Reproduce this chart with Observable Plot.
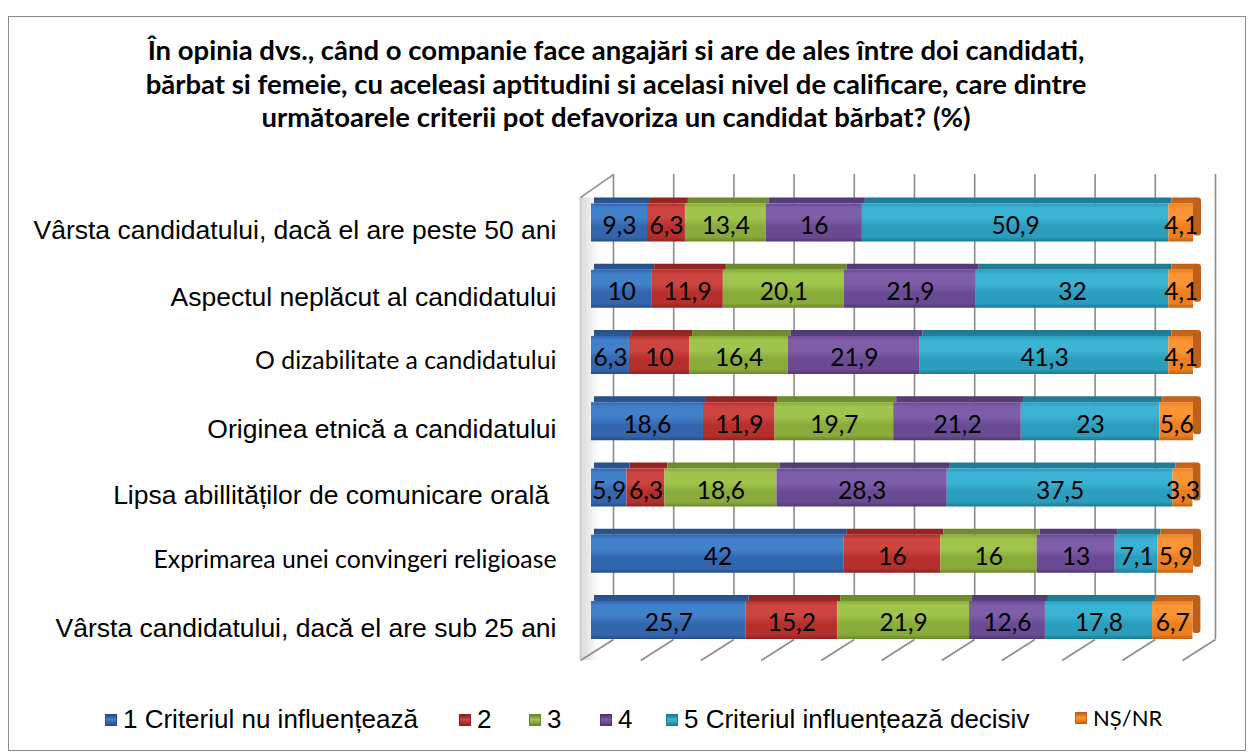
<!DOCTYPE html>
<html>
<head>
<meta charset="utf-8">
<script src="https://cdn.jsdelivr.net/npm/d3@7"></script>
<script src="https://cdn.jsdelivr.net/npm/@observablehq/plot@0.6"></script>
<style>
  html, body { margin: 0; padding: 0; background: #fff; width: 1253px; height: 755px; overflow: hidden; }
  #frame { position: absolute; left: 8px; top: 16px; width: 1236px; height: 733px; border: 1.5px solid #8a8a8a; z-index: 0; }
  #title { position: relative; z-index: 1; box-sizing: border-box; height: 150px; width: 1232px; padding-top: 33px;
           text-align: center; font-family: Lato, "Open Sans", sans-serif; font-weight: 700; font-size: 27.5px; line-height: 33.5px; color: #000; }
  #chart { position: relative; z-index: 1; height: 530px; }
  #legend { position: relative; z-index: 1; height: 70px; }
  .li { position: absolute; top: 24px; display: flex; align-items: center; font-family: "Liberation Sans", Arial, sans-serif; font-size: 26px; color: #000; white-space: pre; }
  .li .mk { width: 12px; height: 12px; margin-right: 6px; box-sizing: border-box; }
</style>
</head>
<body>
<div id="frame"></div>
<div id="title">În opinia dvs., când o companie face angajări si are de ales între doi candidati,<br>bărbat si femeie, cu aceleasi aptitudini si acelasi nivel de calificare, care dintre<br>următoarele criterii pot defavoriza un candidat bărbat? (%)</div>
<div id="chart"></div>
<div id="legend"></div>
<script>
// ---- data ----
const categories = [
  "Vârsta candidatului, dacă el are peste 50 ani",
  "Aspectul neplăcut al candidatului",
  "O dizabilitate a candidatului",
  "Originea etnică a candidatului",
  "Lipsa abillităților de comunicare orală\u00a0",
  "Exprimarea unei convingeri religioase",
  "Vârsta candidatului, dacă el are sub 25 ani"
];
const smallFontCategories = ["O dizabilitate a candidatului", "Exprimarea unei convingeri religioase"];
const seriesNames = ["1 Criteriul nu influențează", "2", "3", "4", "5 Criteriul influențează decisiv", "NȘ/NR"];
const s1 = [9.3, 10, 6.3, 18.6, 5.9, 42, 25.7];
const s2 = [6.3, 11.9, 10, 11.9, 6.3, 16, 15.2];
const s3 = [13.4, 20.1, 16.4, 19.7, 18.6, 16, 21.9];
const s4 = [16, 21.9, 21.9, 21.2, 28.3, 13, 12.6];
const s5 = [50.9, 32, 41.3, 23, 37.5, 7.1, 17.8];
const s6 = [4.1, 4.1, 4.1, 5.6, 3.3, 5.9, 6.7];
const gridTicks = [0, 10, 20, 30, 40, 50, 60, 70, 80, 90, 100];

// colours: [light, base, dark, top face]
const palette = [
  ["#4181CA", "#3466AE", "#264E87", "#2B5894"],
  ["#CC4541", "#B5302D", "#8C2321", "#982927"],
  ["#A0C44C", "#89AB3A", "#6A872A", "#728F31"],
  ["#7E5EA9", "#6A4B93", "#51386F", "#58417D"],
  ["#3BB3D4", "#2B9DBD", "#1E7890", "#23809C"],
  ["#F99535", "#EE7F1F", "#BF6019", "#C9661B"]
];

const allSeries = [s1, s2, s3, s4, s5, s6];
const rows = [];
categories.forEach((c, i) => {
  let acc = 0;
  allSeries.forEach((s, k) => {
    const v = s[i];
    rows.push({cat: c, i, k, v, x1: acc, x2: acc + v, last: k === allSeries.length - 1});
    acc += v;
  });
});

// ---- geometry (styling) ----
const W = 1253, H = 530, mL = 591, mR = 60, mT = 72.5, mB = 60;
const pxX = (W - mL - mR) / 100;
const pxY = (H - mT - mB) / (categories.length - 1);
const half = 19 / pxY;
const depth = 6 / pxY;
const backOff = 22 / pxX, frontOff = 11 / pxX;
const wallTop = -48.5 / pxY, wallTopFront = -25.5 / pxY, floorBack = 416.5 / pxY, floorFront = 437.5 / pxY;

const defs = () => {
  const d = d3.create("svg:defs");
  palette.forEach((p, k) => {
    const g = d.append("linearGradient").attr("id", "face" + k).attr("x1", 0).attr("y1", 0).attr("x2", 0).attr("y2", 1);
    [[0, p[1]], [0.12, p[0]], [0.38, p[0]], [0.6, p[1]], [0.88, p[1]], [1, p[2]]]
      .forEach(([o, c]) => g.append("stop").attr("offset", o).attr("stop-color", c));
    const t = d.append("linearGradient").attr("id", "top" + k).attr("x1", 0).attr("y1", 0).attr("x2", 0).attr("y2", 1);
    [[0, p[2]], [1, p[3]]].forEach(([o, c]) => t.append("stop").attr("offset", o).attr("stop-color", c));
  });
  const w = d.append("linearGradient").attr("id", "wall").attr("x1", 0).attr("y1", 0).attr("x2", 1).attr("y2", 0);
  [[0, "#cfcfcf", 0.9], [0.5, "#e4e4e4", 0.6], [1, "#ffffff", 0]].forEach(([o, c, op]) =>
    w.append("stop").attr("offset", o).attr("stop-color", c).attr("stop-opacity", op));
  return d.node();
};

const fmt = v => String(v).replace(".", ",");

const chart = Plot.plot({
  width: W, height: H,
  marginLeft: mL, marginRight: mR, marginTop: mT, marginBottom: mB,
  x: {domain: [0, 100], axis: null},
  y: {domain: [0, categories.length - 1], reverse: true, axis: null},
  color: {type: "identity"},
  style: {background: "transparent", overflow: "visible"},
  marks: [
    defs,
    Plot.rect([0], {x1: () => -frontOff, x2: () => backOff * 0.55, y1: () => wallTopFront, y2: () => floorFront, fill: () => "url(#wall)"}),
    Plot.ruleX(gridTicks, {x: d => d, y1: () => wallTop, y2: () => floorBack, dx: 22, stroke: "#8c8c8c", strokeWidth: 1.6}),
    Plot.link(gridTicks, {x1: d => d - frontOff, y1: () => floorFront, x2: d => d + backOff, y2: () => floorBack, stroke: "#8c8c8c", strokeWidth: 1.6}),
    Plot.ruleX([0], {x: () => -frontOff, y1: () => wallTopFront, y2: () => floorFront, stroke: "#c8c8c8", strokeWidth: 1.5}),
    Plot.link([0], {x1: () => -frontOff, y1: () => wallTopFront, x2: () => backOff, y2: () => wallTop, stroke: "#9a9a9a", strokeWidth: 1.6}),
    Plot.rect(rows, {x1: "x1", x2: "x2", y1: d => d.i - half - depth, y2: d => d.i - half, dx: 3, fill: d => `url(#top${d.k})`}),
    Plot.rect(rows.filter(d => d.last), {x1: "x2", x2: d => d.x2 + 8 / pxX, y1: d => d.i - half - depth, y2: d => d.i + half - depth, fill: d => palette[d.k][2], rx: 3}),
    Plot.rect(rows, {x1: "x1", x2: "x2", y1: d => d.i - half, y2: d => d.i + half, fill: d => `url(#face${d.k})`}),
    Plot.text(rows, {x: d => (d.x1 + d.x2) / 2, y: "i", text: d => fmt(d.v), fill: "#000", fontSize: 24.5, fontFamily: "Lato, 'Open Sans', sans-serif", dy: 3}),
    Plot.text(categories.map((c, i) => ({c, i})).filter(d => !smallFontCategories.includes(d.c)),
      {y: "i", text: "c", frameAnchor: "left", textAnchor: "end", dx: -35, dy: 8, fill: "#000", fontSize: 26.5, fontFamily: "'Liberation Sans', Arial, sans-serif"}),
    Plot.text(categories.map((c, i) => ({c, i})).filter(d => smallFontCategories.includes(d.c)),
      {y: "i", text: "c", frameAnchor: "left", textAnchor: "end", dx: -35, dy: 6, fill: "#000", fontSize: 24.8, fontFamily: "Lato, 'Open Sans', sans-serif"})
  ]
});
document.getElementById("chart").appendChild(chart);

// ---- legend ----
const legendLeft = [105, 459, 529, 600, 666, 1075];
const legend = document.getElementById("legend");
seriesNames.forEach((name, k) => {
  const p = palette[k];
  const item = document.createElement("div");
  item.className = "li";
  item.style.left = legendLeft[k] + "px";
  if (name === "NȘ/NR") { item.style.fontFamily = "Lato, 'Open Sans', sans-serif"; item.style.fontSize = "22px"; }
  const mk = document.createElement("span");
  mk.className = "mk";
  mk.style.background = `linear-gradient(180deg, ${p[2]} 0%, ${p[0]} 45%, ${p[1]} 75%, ${p[2]} 100%)`;
  mk.style.border = `1px solid ${p[2]}`;
  item.appendChild(mk);
  const tx = document.createElement("span");
  tx.textContent = name;
  item.appendChild(tx);
  legend.appendChild(item);
});
</script>
</body>
</html>
